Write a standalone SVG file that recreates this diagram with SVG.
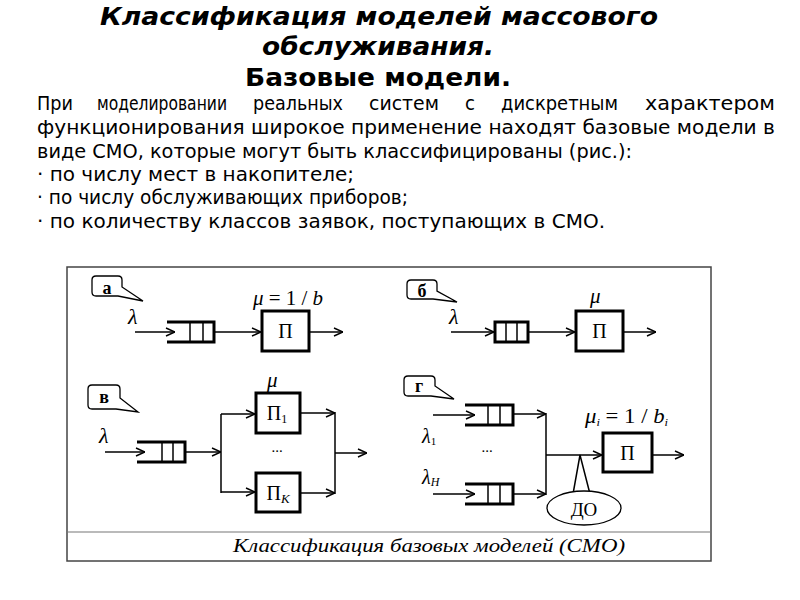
<svg xmlns="http://www.w3.org/2000/svg" width="800" height="600" viewBox="0 0 800 600">
<style>
.title{font-family:"DejaVu Sans","Liberation Sans",sans-serif;font-weight:bold;font-size:25px;fill:#000}
.body{font-family:"DejaVu Sans","Liberation Sans",sans-serif;font-size:19px;fill:#000}
.ser{font-family:"Liberation Serif","DejaVu Serif",serif;fill:#000}
.lbl{font-family:"Liberation Serif","DejaVu Serif",serif;font-size:18px;font-weight:bold;text-anchor:middle}
.it{font-style:italic}
.ln{stroke:#000;stroke-width:1.5;fill:none}
.arr{stroke:#000;stroke-width:1.5;fill:none;marker-end:url(#ah)}
.q{stroke:#000;stroke-width:3;fill:none}
.div{stroke:#000;stroke-width:1.5}
.box{stroke:#000;stroke-width:3;fill:#fff}
.call{stroke:#000;stroke-width:1.3;fill:#fff}
</style>
<defs>
<marker id="ah" viewBox="0 0 10 10" refX="10" refY="5" markerWidth="10" markerHeight="10" markerUnits="userSpaceOnUse" orient="auto">
<path d="M1,1 L10,5 L1,9" fill="none" stroke="#000" stroke-width="1.5"/>
</marker>
</defs>
<rect width="800" height="600" fill="#fff"/>
<g id="header">
<text class="title it" x="100" y="25" textLength="558" lengthAdjust="spacingAndGlyphs">Классификация моделей массового</text>
<text class="title it" x="262" y="55" textLength="232" lengthAdjust="spacingAndGlyphs">обслуживания.</text>
<text class="title" x="245" y="86" textLength="266" lengthAdjust="spacingAndGlyphs">Базовые модели.</text>
</g>
<g id="bodytext" class="body">
<text x="37" y="110" textLength="36" lengthAdjust="spacingAndGlyphs">При</text>
<text x="97" y="110" textLength="130" lengthAdjust="spacingAndGlyphs">моделировании</text>
<text x="253" y="110" textLength="90" lengthAdjust="spacingAndGlyphs">реальных</text>
<text x="369" y="110" textLength="70" lengthAdjust="spacingAndGlyphs">систем</text>
<text x="465" y="110" textLength="10" lengthAdjust="spacingAndGlyphs">с</text>
<text x="501" y="110" textLength="117" lengthAdjust="spacingAndGlyphs">дискретным</text>
<text x="645" y="110" textLength="130" lengthAdjust="spacingAndGlyphs">характером</text>
<text x="37" y="134" textLength="738" lengthAdjust="spacingAndGlyphs">функционирования широкое применение находят базовые модели в</text>
<text x="37" y="158" textLength="595" lengthAdjust="spacingAndGlyphs">виде СМО, которые могут быть классифицированы (рис.):</text>
<text x="37" y="181" textLength="317" lengthAdjust="spacingAndGlyphs">· по числу мест в накопителе;</text>
<text x="37" y="204" textLength="371" lengthAdjust="spacingAndGlyphs">· по числу обслуживающих приборов;</text>
<text x="37" y="228" textLength="568" lengthAdjust="spacingAndGlyphs">· по количеству классов заявок, поступающих в СМО.</text>
</g>
<g id="frame">
<rect x="67" y="267" width="644" height="294" fill="none" stroke="#444" stroke-width="1.5"/>
<line x1="67" y1="532" x2="711" y2="532" stroke="#777" stroke-width="1.2"/>
<text class="ser it" x="233" y="552" font-size="19" textLength="392" lengthAdjust="spacingAndGlyphs">Классификация базовых моделей (СМО)</text>
</g>
<g id="connectors">
<line class="arr" x1="135" y1="332" x2="175" y2="332"/>
<line class="arr" x1="214" y1="332" x2="261" y2="332"/>
<line class="arr" x1="309" y1="332" x2="343" y2="332"/>
<line class="arr" x1="451" y1="332" x2="494" y2="332"/>
<line class="arr" x1="528" y1="332" x2="575" y2="332"/>
<line class="arr" x1="623" y1="332" x2="656" y2="332"/>
<line class="arr" x1="105" y1="452" x2="145" y2="452"/>
<line class="arr" x1="185" y1="452" x2="221" y2="452"/>
<line class="ln" x1="221" y1="414" x2="221" y2="493"/>
<line class="arr" x1="221" y1="414" x2="255" y2="414"/>
<line class="arr" x1="221" y1="492" x2="255" y2="492"/>
<line class="arr" x1="300" y1="413" x2="335" y2="413"/>
<line class="arr" x1="300" y1="493" x2="335" y2="493"/>
<line class="ln" x1="335" y1="412" x2="335" y2="494"/>
<line class="arr" x1="335" y1="453" x2="367" y2="453"/>
<line class="arr" x1="433" y1="415" x2="475" y2="415"/>
<line class="arr" x1="433" y1="494" x2="475" y2="494"/>
<line class="arr" x1="513" y1="414" x2="546" y2="414"/>
<line class="arr" x1="513" y1="494" x2="546" y2="494"/>
<line class="ln" x1="546" y1="413" x2="546" y2="495"/>
<line class="arr" x1="546" y1="455" x2="602" y2="455"/>
<line class="arr" x1="652" y1="455" x2="684" y2="455"/>
</g>
<g id="callout-a">
<path class="call" d="M92,280 q0,-4 4,-4 h22 q4,0 4,4 v7 l21,14 l-25,-5 h-22 q-4,0 -4,-4 z"/>
<text class="lbl" x="107" y="294">а</text>
</g>
<g id="callout-b">
<path class="call" d="M407,284 q0,-4 4,-4 h22 q4,0 4,4 v7 l20,11 l-24,-3 h-22 q-4,0 -4,-4 z"/>
<text class="lbl" x="422" y="297">б</text>
</g>
<g id="callout-v">
<path class="call" d="M88,389 q0,-4 4,-4 h24 q4,0 4,4 v9 l18,14 l-22,-3 h-24 q-4,0 -4,-4 z"/>
<text class="lbl" x="104" y="403" font-size="14">в</text>
</g>
<g id="callout-g">
<path class="call" d="M404,380 q0,-4 4,-4 h23 q4,0 4,4 v6 l19,13 l-23,-3 h-23 q-4,0 -4,-4 z"/>
<text class="lbl" x="419" y="392">г</text>
</g>
<g id="model-a">
<text class="ser it" x="128" y="324" font-size="22">λ</text>
<path class="q" d="M167,322 H214 V342 H167"/>
<line class="div" x1="190" y1="322" x2="190" y2="342"/>
<line class="div" x1="203" y1="322" x2="203" y2="342"/>
<rect class="box" x="262" y="311" width="47" height="40"/>
<text class="ser" x="285.5" y="338" font-size="20" text-anchor="middle">П</text>
<text class="ser" x="253" y="305" font-size="20" textLength="70" lengthAdjust="spacingAndGlyphs"><tspan font-style="italic">μ</tspan> = 1 / <tspan font-style="italic">b</tspan></text>
</g>
<g id="model-b">
<text class="ser it" x="449" y="324" font-size="22">λ</text>
<rect class="q" x="495" y="322" width="33" height="20"/>
<line class="div" x1="506" y1="322" x2="506" y2="342"/>
<line class="div" x1="517" y1="322" x2="517" y2="342"/>
<rect class="box" x="576" y="311" width="47" height="40"/>
<text class="ser" x="599.5" y="338" font-size="20" text-anchor="middle">П</text>
<text class="ser it" x="590" y="303" font-size="21">μ</text>
</g>
<g id="model-v">
<text class="ser it" x="99" y="443" font-size="22">λ</text>
<path class="q" d="M137,442 H185 V462 H137"/>
<line class="div" x1="162" y1="442" x2="162" y2="462"/>
<line class="div" x1="173" y1="442" x2="173" y2="462"/>
<rect class="box" x="256" y="393" width="44" height="40"/>
<text class="ser" x="277" y="420" font-size="20" text-anchor="middle">П<tspan font-size="12" dy="3">1</tspan></text>
<rect class="box" x="256" y="473" width="44" height="39"/>
<text class="ser" x="278" y="500" font-size="20" text-anchor="middle">П<tspan font-size="13" dy="3" font-style="italic">K</tspan></text>
<text class="ser it" x="267" y="387" font-size="21">μ</text>
<text class="ser" x="277" y="452" font-size="15" text-anchor="middle">...</text>
</g>
<g id="model-g">
<path class="q" d="M465,405 H513 V425 H465"/>
<line class="div" x1="488" y1="405" x2="488" y2="425"/>
<line class="div" x1="500" y1="405" x2="500" y2="425"/>
<path class="q" d="M465,484 H513 V504 H465"/>
<line class="div" x1="488" y1="484" x2="488" y2="504"/>
<line class="div" x1="500" y1="484" x2="500" y2="504"/>
<text class="ser it" x="422" y="443" font-size="20">λ<tspan font-size="11" dy="2" font-style="normal">1</tspan></text>
<text class="ser it" x="422" y="484" font-size="20">λ<tspan font-size="12" dy="2">Н</tspan></text>
<text class="ser" x="487" y="452" font-size="15" text-anchor="middle">...</text>
<rect class="box" x="603" y="433" width="49" height="39"/>
<text class="ser" x="627.5" y="460" font-size="20" text-anchor="middle">П</text>
<text class="ser" x="585" y="423" font-size="20" textLength="83" lengthAdjust="spacingAndGlyphs"><tspan font-style="italic">μ</tspan><tspan font-size="11" dy="3" font-style="italic">i</tspan><tspan dy="-3"> = 1 / </tspan><tspan font-style="italic">b</tspan><tspan font-size="11" dy="3" font-style="italic">i</tspan></text>
</g>
<g id="callout-do">
<path class="ln" d="M573,494 L580,455 L590,494" stroke-width="1.3"/>
<ellipse cx="584" cy="508" rx="37" ry="17" fill="#fff" stroke="#000" stroke-width="1.3"/>
<text class="ser" x="584" y="516" font-size="19" text-anchor="middle">ДО</text>
</g>
</svg>
